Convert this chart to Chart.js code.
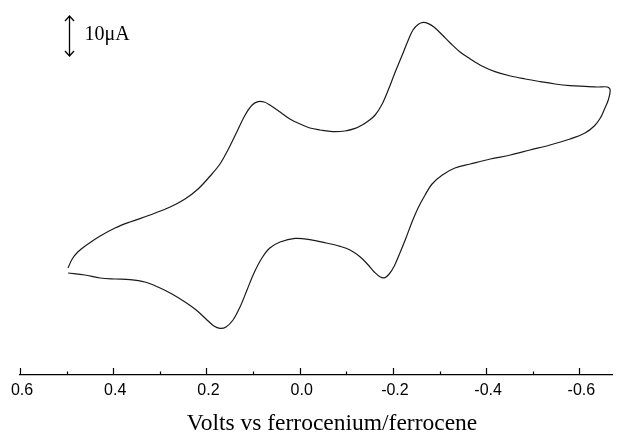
<!DOCTYPE html>
<html>
<head>
<meta charset="utf-8">
<style>
  html, body { margin: 0; padding: 0; background: #fff; }
  #wrap { width: 619px; height: 433px; position: relative; }
</style>
<script src="https://cdn.jsdelivr.net/npm/chart.js@4"></script>
</head>
<body>
<div id="wrap"><canvas id="c" width="619" height="433"></canvas></div>
<script>
// ---- data (potential in V vs Fc+/Fc, current in µA, cathodic up) ----
const forwardPotential = [0.497,0.488,0.476,0.454,0.428,0.396,0.364,0.321,0.278,0.246,0.218,0.192,0.171,0.154,0.136,0.117,0.102,0.089,0.076,0.064,0.042,0.021,-0.001,-0.022,-0.044,-0.070,-0.097,-0.119,-0.134,-0.147,-0.162,-0.177,-0.190,-0.205,-0.220,-0.233,-0.243,-0.254,-0.265,-0.276,-0.288,-0.306,-0.323,-0.344,-0.366,-0.391,-0.419,-0.452,-0.484,-0.516,-0.548,-0.580,-0.612,-0.640,-0.660,-0.666];
const forwardCurrent = [-19.5,-17.25,-15.5,-13.5,-11.5,-9.5,-8,-6.25,-4.25,-2.25,0.25,3.5,6.5,10,14.25,18.75,21.25,22.1,22,21.25,19.5,17.75,16.5,15.5,15,14.6,14.75,15.4,16.25,17.25,18.75,21.5,25,29.5,33.75,37.5,40,41.4,41.9,41.6,40.75,38.75,36.75,34.5,32.75,31,29.6,28.5,27.75,27.1,26.5,26.1,25.9,25.75,25.75,25];
const reversePotential = [-0.662,-0.653,-0.645,-0.632,-0.612,-0.580,-0.537,-0.494,-0.452,-0.409,-0.366,-0.333,-0.306,-0.284,-0.269,-0.254,-0.241,-0.228,-0.215,-0.203,-0.192,-0.183,-0.173,-0.160,-0.147,-0.130,-0.108,-0.087,-0.057,-0.022,0.010,0.042,0.064,0.081,0.098,0.113,0.128,0.143,0.158,0.171,0.184,0.201,0.222,0.246,0.274,0.304,0.332,0.364,0.396,0.428,0.461,0.497];
const reverseCurrent = [22.5,20,18,16,14.25,12.75,11.25,10,8.75,7.75,6.5,5.5,3.75,1.5,-1.25,-4.5,-8,-12,-15.75,-19,-21,-21.9,-21.75,-20.5,-18.75,-16.75,-15,-14.1,-13.25,-12.4,-12.1,-13,-14.5,-17,-20.75,-25,-29.25,-32.5,-34.25,-34.6,-34,-32.25,-30,-28,-26,-24.25,-23,-22.4,-22.25,-22,-21.25,-20.75];
const majorTicks = [0.6,0.4,0.2,0.0,-0.2,-0.4,-0.6];
const tickLabels = ['0.6','0.4','0.2','0.0','-0.2','-0.4','-0.6'];
const minorTicks = [0.5,0.3,0.1,-0.1,-0.3,-0.5];
const scaleBarCurrent = [33.5, 43.5];   // 10 µA bar
const scaleBarPotential = 0.495;
const xTitle = 'Volts vs ferrocenium/ferrocene';
const scaleBarLabel = '10\u03BCA';

const points = [];
forwardPotential.forEach((v, i) => points.push({x: v, y: forwardCurrent[i]}));
reversePotential.forEach((v, i) => points.push({x: v, y: reverseCurrent[i]}));

const decorations = {
  id: 'decorations',
  afterDraw(chart) {
    const ctx = chart.ctx;
    const xs = chart.scales.x, ys = chart.scales.y;
    const axisY = chart.chartArea.bottom;
    ctx.save();
    ctx.strokeStyle = '#000';
    ctx.lineWidth = 1.2;
    majorTicks.forEach(v => {
      const px = Math.round(xs.getPixelForValue(v)) + 0.5;
      ctx.beginPath(); ctx.moveTo(px, axisY); ctx.lineTo(px, axisY - 7); ctx.stroke();
    });
    minorTicks.forEach(v => {
      const px = Math.round(xs.getPixelForValue(v)) + 0.5;
      ctx.beginPath(); ctx.moveTo(px, axisY); ctx.lineTo(px, axisY - 3.5); ctx.stroke();
    });
    // axis title
    ctx.fillStyle = '#000';
    ctx.font = '23.5px "Liberation Serif", "Times New Roman", serif';
    ctx.textAlign = 'center';
    ctx.textBaseline = 'alphabetic';
    ctx.fillText(xTitle, (xs.left + xs.right) / 2 + 16, xs.bottom - 3);
    // scale bar
    const bx = Math.round(xs.getPixelForValue(scaleBarPotential)) + 0.5;
    const by0 = ys.getPixelForValue(scaleBarCurrent[1]);
    const by1 = ys.getPixelForValue(scaleBarCurrent[0]);
    ctx.lineWidth = 1.3;
    ctx.beginPath(); ctx.moveTo(bx, by0); ctx.lineTo(bx, by1); ctx.stroke();
    ctx.beginPath(); ctx.moveTo(bx - 4.5, by0 + 5); ctx.lineTo(bx, by0); ctx.lineTo(bx + 4.5, by0 + 5); ctx.stroke();
    ctx.beginPath(); ctx.moveTo(bx - 4.5, by1 - 5); ctx.lineTo(bx, by1); ctx.lineTo(bx + 4.5, by1 - 5); ctx.stroke();
    ctx.font = '20px "Liberation Serif", "Times New Roman", serif';
    ctx.textBaseline = 'middle';
    ctx.textAlign = 'left';
    ctx.fillText(scaleBarLabel, bx + 15, (by0 + by1) / 2 - 1);
    ctx.restore();
  }
};

new Chart(document.getElementById('c'), {
  type: 'scatter',
  data: {
    datasets: [{
      data: points,
      showLine: true,
      borderColor: '#1a1a1a',
      borderWidth: 1.2,
      pointRadius: 0,
      tension: 0.35,
      fill: false
    }]
  },
  options: {
    responsive: false,
    animation: false,
    layout: { padding: { left: 20, right: 7, top: 0, bottom: 0 } },
    plugins: { legend: { display: false }, tooltip: { enabled: false } },
    scales: {
      x: {
        type: 'linear',
        reverse: true,
        min: -0.670,
        max: 0.6,
        afterFit: (scale) => { scale.height = 58; },
        grid: { display: false, drawTicks: false },
        border: { display: true, color: '#000', width: 1.2 },
        ticks: {
          stepSize: 0.2,
          includeBounds: false,
          autoSkip: false,
          maxRotation: 0,
          padding: 6,
          labelOffset: 2,
          color: '#000',
          font: { family: '"Liberation Sans", Arial, sans-serif', size: 16 },
          callback: (value) => {
            const idx = majorTicks.findIndex(t => Math.abs(t - value) < 1e-6);
            return idx >= 0 ? tickLabels[idx] : '';
          }
        },
        title: { display: false, text: xTitle }
      },
      y: {
        display: false,
        min: -46.25,
        max: 47.5
      }
    }
  },
  plugins: [decorations]
});
</script>
</body>
</html>
